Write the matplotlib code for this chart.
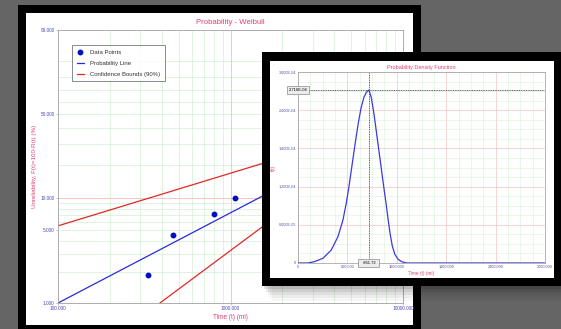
import numpy as np
import matplotlib
matplotlib.use("Agg")
import matplotlib.pyplot as plt
from matplotlib.patches import Rectangle
from matplotlib.ticker import FixedLocator, MultipleLocator, NullFormatter

plt.rcParams["font.family"] = ["Liberation Sans", "DejaVu Sans"]

# -----------------------
# Data: Weibull probability plot
# -----------------------
fail_times = [332, 464, 802, 1062]
unreliability = [1.88, 4.54, 7.16, 10.1]

prob_line_t = [100, 10000]
prob_line_f = [1.0, 43.8]
upper_t = [100, 10000]
upper_f = [5.52, 45.3]
lower_t = [390, 10000]
lower_f = [1.0, 44.1]

x_ticks = [100, 1000, 10000]
x_labels = ["100.000", "1000.000", "10000.000"]
y_ticks = [1, 5, 10, 50, 99]
y_labels = ["1.000", "5.000", "10.000", "50.000", "99.000"]
x_minor = [200, 300, 400, 500, 600, 700, 800, 900,
           2000, 3000, 4000, 5000, 6000, 7000, 8000, 9000]
y_minor = [2, 3, 4, 5, 6, 7, 8, 9, 20, 30, 40, 50, 60, 70, 80, 90]

# -----------------------
# Data: probability density function (values in 1e-4)
# -----------------------
pdf_t = [0, 120, 197, 303, 404, 485, 546, 586, 619, 650, 690, 730, 765,
         800, 830, 861.72, 890, 922, 950, 980, 1010, 1040, 1070, 1095,
         1120, 1145, 1175, 1214, 1260, 1320, 3000]
pdf_f = [0, 0, 0.02, 0.074, 0.204, 0.413, 0.675, 0.938, 1.20, 1.48, 1.84,
         2.18, 2.43, 2.60, 2.68, 2.716, 2.60, 2.35, 2.08, 1.79, 1.50, 1.21,
         0.93, 0.68, 0.45, 0.27, 0.14, 0.06, 0.02, 0, 0]
pdf_x_ticks = [0, 600, 1200, 1800, 2400, 3000]
pdf_x_labels = ["0", "600.000", "1200.000", "1800.000", "2400.000", "3000.000"]
pdf_y_ticks = [0, 6e-5, 1.2e-4, 1.8e-4, 2.4e-4, 3e-4]
pdf_y_labels = ["0", "6.000E-05", "1.200E-04", "1.800E-04", "2.400E-04", "3.000E-04"]
peak_t = 861.72
peak_f = 2.716e-4

W, H = 561, 329
RED = "#e04070"
TICK_BLUE = "#4a4ab8"


def fx(px):
    return px / W


def fy(py):
    return 1 - py / H


def weib_fwd(f):
    f = np.clip(np.asarray(f, dtype=float), 1e-6, 99.9999)
    return np.log(-np.log(1 - f / 100.0))


def weib_inv(u):
    return 100.0 * (1 - np.exp(-np.exp(u)))


fig = plt.figure(figsize=(W / 100, H / 100), dpi=100, facecolor="#656565")


def box(x0, y0, x1, y1, color, z, alpha=1.0):
    r = Rectangle((fx(x0), fy(y1)), fx(x1) - fx(x0), fy(y0) - fy(y1),
                  transform=fig.transFigure, facecolor=color, edgecolor="none",
                  zorder=z, alpha=alpha)
    fig.add_artist(r)


# left window
box(18, 5, 421, 335, "black", 0.1)
box(26, 13, 413, 325, "white", 0.2)

ax = fig.add_axes([fx(58), fy(303), fx(403) - fx(58), fy(30) - fy(303)])
ax.set_zorder(1)
ax.set_xscale("log")
ax.set_yscale("function", functions=(weib_fwd, weib_inv))
ax.set_xlim(100, 10000)
ax.set_ylim(1, 99)

for v in x_minor:
    ax.axvline(v, color="#d2f0d2", lw=0.5, zorder=0)
for v in y_minor:
    ax.axhline(v, color="#d2f0d2", lw=0.5, zorder=0)
ax.axvline(1000, color="#f6bcbc", lw=0.6, zorder=0)
ax.axhline(10, color="#f6bcbc", lw=0.6, zorder=0)

ax.plot(fail_times, unreliability, "o", color="#0010c0", ms=3.2,
        label="Data Points", zorder=3)
ax.plot(prob_line_t, prob_line_f, color="#2a2ad8", lw=0.9,
        label="Probability Line", zorder=2)
ax.plot(upper_t, upper_f, color="#e02828", lw=0.9,
        label="Confidence Bounds (90%)", zorder=2)
ax.plot(lower_t, lower_f, color="#e02828", lw=0.9, zorder=2)

ax.xaxis.set_major_locator(FixedLocator(x_ticks))
ax.xaxis.set_minor_locator(FixedLocator([]))
ax.set_xticklabels(x_labels)
ax.yaxis.set_major_locator(FixedLocator(y_ticks))
ax.yaxis.set_minor_locator(FixedLocator([]))
ax.yaxis.set_minor_formatter(NullFormatter())
ax.set_yticklabels(y_labels)
ax.tick_params(labelsize=3.4, labelcolor=TICK_BLUE, length=1.5, width=0.4,
               color="#999999", pad=1)
for s in ax.spines.values():
    s.set_color("#a0a0a0")
    s.set_linewidth(0.6)

ax.set_title("Probability - Weibull", fontsize=5.6, color=RED, pad=4)
ax.set_xlabel("Time (t) (mi)", fontsize=4.7, color=RED)
ax.xaxis.set_label_coords(0.5, -0.04)
ax.set_ylabel("Unreliability, F(t)=100-R(t) (%)", fontsize=4.5, color=RED)
ax.yaxis.set_label_coords(-0.062, 0.5)

leg = ax.legend(loc="upper left", bbox_to_anchor=(0.04, 0.945), fontsize=4.3,
                frameon=True, fancybox=False, edgecolor="#555555",
                handlelength=1.2, handletextpad=1.1, borderpad=0.8,
                labelspacing=0.95, borderaxespad=0)
leg.get_frame().set_linewidth(0.6)
for t in leg.get_texts():
    t.set_color("#333333")

# shadow of the right window
for i, a in enumerate([0.10, 0.08, 0.06, 0.04, 0.03]):
    box(262 + 2 + i * 2, 52 + 4, 561, 286 + 3 + i * 3, "black", 1.5 + i * 0.01, a)

# right window
box(262, 52, 566, 286, "black", 2)
box(270, 61, 554, 278, "white", 2.1)

ax2 = fig.add_axes([fx(298), fy(263), fx(545) - fx(298), fy(72) - fy(263)])
ax2.set_zorder(3)
ax2.set_xlim(0, 3000)
ax2.set_ylim(0, 3e-4)
ax2.xaxis.set_minor_locator(MultipleLocator(150))
ax2.yaxis.set_minor_locator(MultipleLocator(1.5e-5))
ax2.set_xticks(pdf_x_ticks)
ax2.set_xticklabels(pdf_x_labels)
ax2.set_yticks(pdf_y_ticks)
ax2.set_yticklabels(pdf_y_labels)
ax2.grid(which="minor", color="#d6f2d6", lw=0.4)
ax2.grid(which="major", color="#f6c4c4", lw=0.5)
ax2.set_axisbelow(True)

ax2.plot(pdf_t, np.array(pdf_f) * 1e-4, color="#3a3ae0", lw=0.9, zorder=3)
ax2.axhline(peak_f, color="#222222", lw=0.5, ls=(0, (1.5, 1)), zorder=2)
ax2.axvline(peak_t, color="#222222", lw=0.5, ls=(0, (1.5, 1)), zorder=2)

ax2.tick_params(which="both", length=0, labelsize=2.7, labelcolor="#5050a0", pad=1.5)
for s in ax2.spines.values():
    s.set_color("#a8a8a8")
    s.set_linewidth(0.6)

ax2.set_title("Probability Density Function", fontsize=4.0, color=RED, pad=2.5)
ax2.set_xlabel("Time (t) (mi)", fontsize=3.4, color=RED)
ax2.xaxis.set_label_coords(0.5, -0.04)
ax2.set_ylabel("f(t)", fontsize=3.6, color=RED)
ax2.yaxis.set_label_coords(-0.09, 0.5)

bb = dict(boxstyle="square,pad=0.5", facecolor="#ececec", edgecolor="#888888", lw=0.5)
ax2.text(0, peak_f, "%.3fE-04" % (peak_f * 1e4), transform=ax2.get_yaxis_transform(),
         fontsize=3.0, ha="center", va="center", bbox=bb, zorder=5, clip_on=False)
ax2.text(peak_t, 0, "  %.2f  " % peak_t, transform=ax2.get_xaxis_transform(),
         fontsize=3.0, ha="center", va="center", bbox=bb, zorder=5, clip_on=False)

fig.savefig("out.png", dpi=100, facecolor=fig.get_facecolor())
